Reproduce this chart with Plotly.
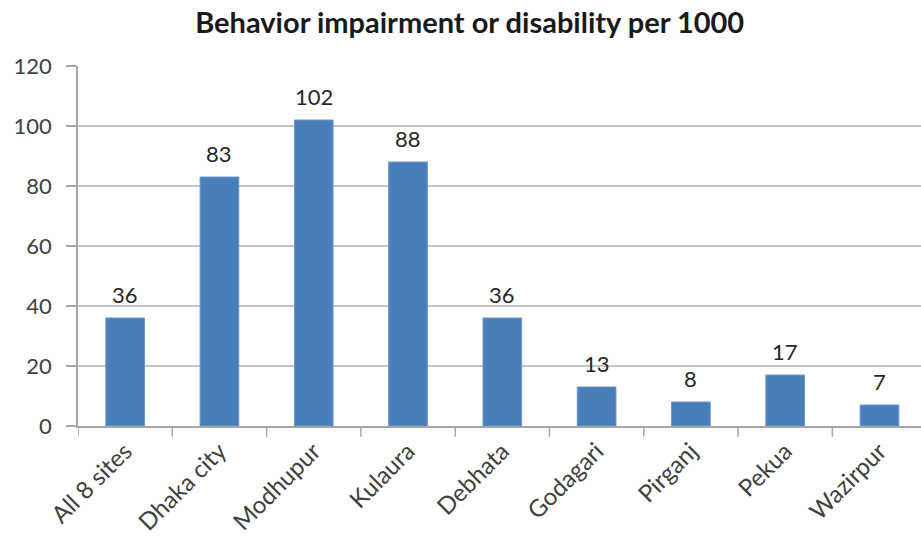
import plotly.graph_objects as go

sites = ["All 8 sites", "Dhaka city", "Modhupur", "Kulaura", "Debhata",
         "Godagari", "Pirganj", "Pekua", "Wazirpur"]
rate_per_1000 = [36, 83, 102, 88, 36, 13, 8, 17, 7]
y_ticks = [0, 20, 40, 60, 80, 100, 120]

font_family = "Lato, 'Open Sans', sans-serif"
axis_grey = "#a6a6a6"

x_pos = list(range(len(sites)))

fig = go.Figure(
    go.Bar(
        x=x_pos,
        y=rate_per_1000,
        width=0.41,
        marker=dict(color="#4a7ebb", line=dict(color="#6a96cc", width=1)),
        hoverinfo="x+y",
    )
)

# value labels above each bar
for xi, v in zip(x_pos, rate_per_1000):
    fig.add_annotation(
        x=xi, y=v, xref="x", yref="y",
        text=str(v), showarrow=False,
        yanchor="bottom", yshift=8,
        font=dict(size=22, color="#262626", family=font_family),
    )

fig.update_layout(
    width=921, height=550,
    margin=dict(l=78, r=0, t=66, b=124),
    paper_bgcolor="white", plot_bgcolor="white",
    showlegend=False,
    title=dict(
        text="<b>Behavior impairment or disability per 1000</b>",
        x=0.51, xanchor="center", y=0.958, yanchor="middle",
        font=dict(size=29, color="#1a1a1a", family=font_family),
    ),
    font=dict(family=font_family, color="#404040"),
)

fig.update_xaxes(
    tickmode="array",
    tickvals=x_pos,
    ticktext=sites,
    tickangle=-45,
    range=[-0.5, 8.44],
    tickfont=dict(size=24, color="#404040"),
    showline=True, linecolor=axis_grey, linewidth=1.5,
    ticks="", showgrid=False,
)

# category boundary tick marks below the axis
for i in range(len(sites) + 1):
    fig.add_shape(type="line", xref="x", yref="paper",
                  x0=i - 0.5, x1=i - 0.5, y0=0, y1=-0.03,
                  line=dict(color=axis_grey, width=1.5))

fig.update_yaxes(
    range=[0, 120],
    tickmode="array", tickvals=y_ticks,
    tickfont=dict(size=22, color="#404040"),
    showgrid=True, gridcolor="#c4c4c4", gridwidth=1.5,
    showline=True, linecolor=axis_grey, linewidth=1.5,
    ticks="outside", ticklen=10, tickcolor=axis_grey, tickwidth=1.5,
    ticklabelstandoff=10,
    zeroline=False,
)

fig.write_html("out.html")
